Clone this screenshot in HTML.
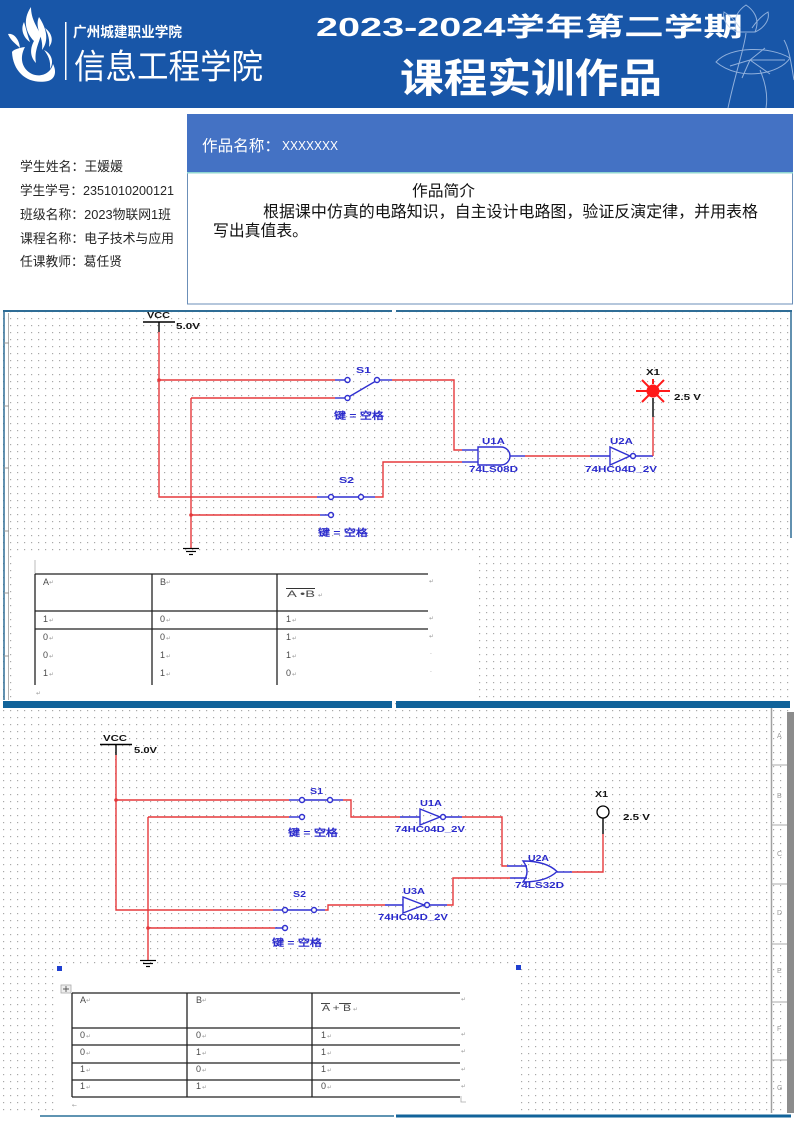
<!DOCTYPE html>
<html><head><meta charset="utf-8"><style>
html,body{margin:0;padding:0;background:#fff}
body{width:794px;height:1123px;overflow:hidden;position:relative}
svg{position:absolute;left:0;top:0;display:block}
.cj{font-family:"Liberation Sans","Noto Sans CJK SC",sans-serif}
.lb{font-family:"Liberation Sans","WenQuanYi Zen Hei",sans-serif;font-weight:bold;font-size:8.5px}
.tb{font-family:"Liberation Sans","DejaVu Sans",sans-serif;fill:#4a4a4a;font-size:9px}
.rt{font-family:"DejaVu Sans",sans-serif;fill:#999;font-size:6px}
.rl{font-family:"Liberation Sans",sans-serif;fill:#999;font-size:7px}
</style></head><body>
<svg width="794" height="1123" viewBox="0 0 794 1123" xmlns="http://www.w3.org/2000/svg">
<defs><pattern id="d" width="7" height="7" patternUnits="userSpaceOnUse"><rect x="3" y="3" width="1.2" height="1.2" fill="#a8a8a8"/></pattern></defs>
<rect width="794" height="1123" fill="#fff"/>

<!-- HEADER -->
<rect x="0" y="0" width="794" height="108" fill="#1856a8"/>
<g fill="#fff">
  <path d="M8,34 C13,33 19,38 20,48 C16,44 11,41 8,34 Z"/>
  <path d="M12,52 C13,74 30,85 48,81 C55,79 57,72 53,64 C51,73 41,78 32,74 C22,69 19,58 25,47 C18,48 13,50 12,52 Z"/>
  <path d="M31,7 C22,20 26,33 34,41 C29,50 31,58 36,63 C34,51 39,43 41,35 C37,27 31,19 31,7 Z"/>
  <path d="M39,17 C34,28 44,37 42,50 C49,41 47,29 39,17 Z"/>
  <path d="M24,22 C20,30 24,38 30,42 C27,34 26,28 24,22 Z"/>
  <path d="M45,28 C52,33 54,41 49,47 C50,40 48,34 45,28 Z"/>
  <path d="M44,50 C52,54 54,62 50,69 C51,61 48,55 44,50 Z"/>
</g>
<rect x="65" y="22" width="1.5" height="58" fill="#fff"/>
<text class="cj" x="73" y="37" font-size="14" font-weight="bold" fill="#fff" textLength="109" lengthAdjust="spacingAndGlyphs">广州城建职业学院</text>
<text class="cj" x="74" y="78.5" font-size="34" fill="#fff" textLength="189" lengthAdjust="spacingAndGlyphs">信息工程学院</text>
<text class="cj" x="316" y="36" font-size="26" font-weight="bold" fill="#fff" textLength="427" lengthAdjust="spacingAndGlyphs">2023-2024学年第二学期</text>
<text class="cj" x="400" y="92" font-size="40" font-weight="bold" fill="#fff" textLength="262" lengthAdjust="spacingAndGlyphs">课程实训作品</text>
<g fill="none" stroke="#b9cfee" stroke-width="1" opacity="0.75">
  <path d="M737,32 C731,18 740,9 746,5 C752,9 761,18 755,32 Z"/>
  <path d="M737,32 C728,28 722,20 724,12 C731,16 736,22 740,28"/>
  <path d="M755,32 C764,28 770,20 768,12 C761,16 756,22 752,28"/>
  <path d="M746,33 C744,50 736,70 728,108"/>
  <path d="M716,62 C730,46 770,46 790,58 C780,74 740,82 716,62 Z"/>
  <path d="M750,60 L730,66 M750,60 L742,78 M750,60 L770,74 M750,60 L785,60 M750,60 L765,48"/>
  <path d="M760,70 C766,84 768,96 766,108"/>
  <path d="M784,40 C790,50 792,70 794,80"/>
</g>

<!-- INFO -->
<g class="cj" font-size="13" fill="#262626">
  <text x="20" y="171" textLength="103" lengthAdjust="spacingAndGlyphs">学生姓名：王媛媛</text>
  <text x="20" y="195" textLength="154" lengthAdjust="spacingAndGlyphs">学生学号：2351010200121</text>
  <text x="20" y="219" textLength="151" lengthAdjust="spacingAndGlyphs">班级名称：2023物联网1班</text>
  <text x="20" y="243" textLength="154" lengthAdjust="spacingAndGlyphs">课程名称：电子技术与应用</text>
  <text x="20" y="266" textLength="102" lengthAdjust="spacingAndGlyphs">任课教师：葛任贤</text>
</g>
<rect x="187" y="114" width="606" height="58" fill="#4472c4"/>
<text class="cj" x="202" y="151" font-size="15.5" fill="#fff" textLength="78" lengthAdjust="spacingAndGlyphs">作品名称：</text>
<text class="cj" x="282" y="150" font-size="12.5" fill="#fff" textLength="56" lengthAdjust="spacingAndGlyphs">XXXXXXX</text>
<rect x="187.5" y="172.5" width="605" height="131.5" fill="#fff" stroke="#6b8fb8" stroke-width="1"/>
<line x1="187" y1="172.8" x2="793" y2="172.8" stroke="#8fd6d2" stroke-width="1.5"/>
<g class="cj" fill="#111">
  <text x="412" y="196" font-size="15.5" textLength="63" lengthAdjust="spacingAndGlyphs">作品简介</text>
  <text x="263" y="217" font-size="16" textLength="495" lengthAdjust="spacingAndGlyphs">根据课中仿真的电路知识，自主设计电路图，验证反演定律，并用表格</text>
  <text x="213" y="236" font-size="16" textLength="95" lengthAdjust="spacingAndGlyphs">写出真值表。</text>
</g>

<!-- GRID AREA -->
<rect x="0" y="312" width="794" height="804" fill="url(#d)"/>
<rect x="17" y="556" width="461" height="145" fill="#fff"/>
<rect x="57" y="966" width="464" height="150" fill="#fff"/>
<rect x="787" y="712" width="7" height="401" fill="#8c8c8c"/>
<line x1="771.5" y1="708" x2="771.5" y2="1113" stroke="#a0a0a0" stroke-width="1.5"/>
<g stroke="#a8a8a8" stroke-width="1">
  <line x1="771" y1="765" x2="787" y2="765"/><line x1="771" y1="825" x2="787" y2="825"/>
  <line x1="771" y1="884" x2="787" y2="884"/><line x1="771" y1="944" x2="787" y2="944"/>
  <line x1="771" y1="1002" x2="787" y2="1002"/><line x1="771" y1="1060" x2="787" y2="1060"/>
</g>
<g class="rl">
  <text x="777" y="738">A</text><text x="777" y="798">B</text><text x="777" y="856">C</text>
  <text x="777" y="915">D</text><text x="777" y="973">E</text><text x="777" y="1031">F</text><text x="777" y="1090">G</text>
</g>

<!-- bars -->
<rect x="3" y="701" width="389" height="7" fill="#11639a"/>
<rect x="396" y="701" width="394" height="7" fill="#11639a"/>
<line x1="40" y1="1116" x2="394" y2="1116" stroke="#2a7099" stroke-width="1.5"/>
<rect x="396" y="1114.5" width="395" height="3" fill="#11639a"/>

<!-- circuit 1 frame -->
<rect x="3" y="310" width="389" height="2" fill="#2f6d96"/>
<rect x="396" y="310" width="396" height="2" fill="#2f6d96"/>
<line x1="791" y1="311" x2="791" y2="538" stroke="#2f6d96" stroke-width="1.5"/>
<line x1="4" y1="311" x2="4" y2="700" stroke="#2f6d96" stroke-width="1.5"/>
<line x1="8.5" y1="313" x2="8.5" y2="700" stroke="#b0b0b0" stroke-width="1"/>
<g stroke="#999" stroke-width="1">
  <line x1="4" y1="343" x2="9" y2="343"/><line x1="4" y1="406" x2="9" y2="406"/>
  <line x1="4" y1="468" x2="9" y2="468"/><line x1="4" y1="531" x2="9" y2="531"/>
  <line x1="4" y1="593" x2="9" y2="593"/><line x1="4" y1="656" x2="9" y2="656"/>
</g>

<!-- CIRCUIT 1 -->
<g fill="none" stroke-width="1.4">
  <line x1="143" y1="322" x2="175" y2="322" stroke="#000"/>
  <line x1="159" y1="322" x2="159" y2="332" stroke="#000"/>
  <polyline points="159,332 159,497 317,497" stroke="#e5383b"/>
  <line x1="159" y1="380" x2="335" y2="380" stroke="#e5383b"/>
  <line x1="335" y1="380" x2="345" y2="380" stroke="#2f2fd0"/>
  <circle cx="347.5" cy="380" r="2.5" stroke="#2f2fd0"/>
  <line x1="349.5" y1="396.5" x2="375" y2="381.5" stroke="#2f2fd0"/>
  <circle cx="377" cy="380" r="2.5" stroke="#2f2fd0"/>
  <line x1="379.5" y1="380" x2="392" y2="380" stroke="#2f2fd0"/>
  <polyline points="392,380 454,380 454,450 462,450" stroke="#e5383b"/>
  <line x1="462" y1="450" x2="478" y2="450" stroke="#2f2fd0"/>
  <line x1="191" y1="398" x2="335" y2="398" stroke="#e5383b"/>
  <line x1="335" y1="398" x2="345" y2="398" stroke="#2f2fd0"/>
  <circle cx="347.5" cy="398" r="2.5" stroke="#2f2fd0"/>
  <line x1="191" y1="398" x2="191" y2="548" stroke="#e5383b"/>
  <line x1="317" y1="497" x2="328.5" y2="497" stroke="#2f2fd0"/>
  <circle cx="331" cy="497" r="2.5" stroke="#2f2fd0"/>
  <line x1="333.5" y1="497" x2="358.5" y2="497" stroke="#2f2fd0"/>
  <circle cx="361" cy="497" r="2.5" stroke="#2f2fd0"/>
  <line x1="363.5" y1="497" x2="375" y2="497" stroke="#2f2fd0"/>
  <polyline points="375,497 383,497 383,462 462,462" stroke="#e5383b"/>
  <line x1="462" y1="462" x2="478" y2="462" stroke="#2f2fd0"/>
  <line x1="191" y1="515" x2="320" y2="515" stroke="#e5383b"/>
  <line x1="320" y1="515" x2="328.5" y2="515" stroke="#2f2fd0"/>
  <circle cx="331" cy="515" r="2.5" stroke="#2f2fd0"/>
  <path d="M478,447 H501 A9,9 0 0 1 501,465 H478 Z" stroke="#2f2fd0"/>
  <line x1="510" y1="456" x2="525" y2="456" stroke="#2f2fd0"/>
  <line x1="525" y1="456" x2="590" y2="456" stroke="#e5383b"/>
  <line x1="590" y1="456" x2="610" y2="456" stroke="#2f2fd0"/>
  <path d="M610,447 L610,465 L630,456 Z" stroke="#2f2fd0"/>
  <circle cx="633" cy="456" r="2.5" stroke="#2f2fd0"/>
  <line x1="635.5" y1="456" x2="653" y2="456" stroke="#2f2fd0"/>
  <line x1="653" y1="456" x2="653" y2="417" stroke="#e5383b"/>
  <line x1="653" y1="417" x2="653" y2="398" stroke="#000"/>
  <line x1="183" y1="548.5" x2="199" y2="548.5" stroke="#000" stroke-width="1.2"/>
  <line x1="186" y1="551.5" x2="196" y2="551.5" stroke="#000" stroke-width="1.2"/>
  <line x1="189" y1="554.5" x2="193" y2="554.5" stroke="#000" stroke-width="1.2"/>
</g>
<circle cx="159" cy="380" r="1.8" fill="#e5383b"/>
<circle cx="191" cy="515" r="1.8" fill="#e5383b"/>
<g stroke="#ff1a1a" stroke-width="2">
  <line x1="636" y1="391" x2="670" y2="391"/>
  <line x1="653" y1="379" x2="653" y2="384"/>
  <line x1="642" y1="380" x2="664" y2="402"/>
  <line x1="664" y1="380" x2="642" y2="402"/>
</g>
<circle cx="653" cy="391" r="6.5" fill="#ff1a1a"/>
<g class="lb" fill="#111">
  <text x="147" y="318" textLength="23" lengthAdjust="spacingAndGlyphs">VCC</text>
  <text x="176" y="329" textLength="24" lengthAdjust="spacingAndGlyphs">5.0V</text>
  <text x="646" y="375" textLength="14" lengthAdjust="spacingAndGlyphs">X1</text>
  <text x="674" y="400" textLength="27" lengthAdjust="spacingAndGlyphs">2.5 V</text>
</g>
<g class="lb" fill="#2a2acb">
  <text x="356" y="373" textLength="15" lengthAdjust="spacingAndGlyphs">S1</text>
  <text x="334" y="419" font-size="9.5" textLength="50" lengthAdjust="spacingAndGlyphs">键 = 空格</text>
  <text x="339" y="483" textLength="15" lengthAdjust="spacingAndGlyphs">S2</text>
  <text x="318" y="536" font-size="9.5" textLength="50" lengthAdjust="spacingAndGlyphs">键 = 空格</text>
  <text x="482" y="444" textLength="23" lengthAdjust="spacingAndGlyphs">U1A</text>
  <text x="469" y="472" textLength="49" lengthAdjust="spacingAndGlyphs">74LS08D</text>
  <text x="610" y="444" textLength="23" lengthAdjust="spacingAndGlyphs">U2A</text>
  <text x="585" y="472" textLength="72" lengthAdjust="spacingAndGlyphs">74HC04D_2V</text>
</g>

<!-- TABLE 1 -->
<line x1="35" y1="560" x2="35" y2="574" stroke="#bbb" stroke-width="1"/>
<g stroke="#222" stroke-width="1.3">
  <line x1="35" y1="574" x2="428" y2="574"/>
  <line x1="35" y1="611" x2="428" y2="611"/>
  <line x1="35" y1="629" x2="428" y2="629"/>
  <line x1="35" y1="574" x2="35" y2="685"/>
  <line x1="152" y1="574" x2="152" y2="685"/>
  <line x1="277" y1="574" x2="277" y2="685"/>
</g>
<g class="tb">
  <text x="43" y="585">A</text><text x="160" y="585">B</text>
  <text x="287" y="597" textLength="28" lengthAdjust="spacingAndGlyphs">A •B</text>
  <text x="43" y="622">1</text><text x="160" y="622">0</text><text x="286" y="622">1</text>
  <text x="43" y="640">0</text><text x="160" y="640">0</text><text x="286" y="640">1</text>
  <text x="43" y="658">0</text><text x="160" y="658">1</text><text x="286" y="658">1</text>
  <text x="43" y="676">1</text><text x="160" y="676">1</text><text x="286" y="676">0</text>
</g>
<line x1="286" y1="588.5" x2="315" y2="588.5" stroke="#333" stroke-width="0.9"/>
<g class="rt">
  <text x="49" y="584">↵</text><text x="166" y="584">↵</text><text x="318" y="597">↵</text>
  <text x="49" y="622">↵</text><text x="166" y="622">↵</text><text x="292" y="622">↵</text>
  <text x="49" y="640">↵</text><text x="166" y="640">↵</text><text x="292" y="640">↵</text>
  <text x="49" y="658">↵</text><text x="166" y="658">↵</text><text x="292" y="658">↵</text>
  <text x="49" y="676">↵</text><text x="166" y="676">↵</text><text x="292" y="676">↵</text>
  <text x="429" y="583">↵</text><text x="429" y="620">↵</text><text x="429" y="638">↵</text>
  <text x="430" y="656">·</text><text x="430" y="674">·</text>
  <text x="36" y="695">↵</text>
</g>

<!-- CIRCUIT 2 -->
<g fill="none" stroke-width="1.4">
  <line x1="100" y1="744.5" x2="132" y2="744.5" stroke="#000"/>
  <line x1="116" y1="744" x2="116" y2="755" stroke="#000"/>
  <polyline points="116,755 116,910 273,910" stroke="#e5383b"/>
  <line x1="116" y1="800" x2="289" y2="800" stroke="#e5383b"/>
  <line x1="289" y1="800" x2="299.5" y2="800" stroke="#2f2fd0"/>
  <circle cx="302" cy="800" r="2.5" stroke="#2f2fd0"/>
  <line x1="304.5" y1="800" x2="327.5" y2="800" stroke="#2f2fd0"/>
  <circle cx="330" cy="800" r="2.5" stroke="#2f2fd0"/>
  <line x1="332.5" y1="800" x2="343" y2="800" stroke="#2f2fd0"/>
  <polyline points="343,800 351,800 351,817 400,817" stroke="#e5383b"/>
  <line x1="400" y1="817" x2="420" y2="817" stroke="#2f2fd0"/>
  <path d="M420,809 L420,825 L440,817 Z" stroke="#2f2fd0"/>
  <circle cx="443" cy="817" r="2.5" stroke="#2f2fd0"/>
  <line x1="445.5" y1="817" x2="462" y2="817" stroke="#2f2fd0"/>
  <polyline points="462,817 502,817 502,866 507,866" stroke="#e5383b"/>
  <line x1="507" y1="866" x2="527" y2="866" stroke="#2f2fd0"/>
  <line x1="148" y1="817" x2="289" y2="817" stroke="#e5383b"/>
  <line x1="289" y1="817" x2="299.5" y2="817" stroke="#2f2fd0"/>
  <circle cx="302" cy="817" r="2.5" stroke="#2f2fd0"/>
  <line x1="148" y1="817" x2="148" y2="960" stroke="#e5383b"/>
  <line x1="273" y1="910" x2="282.5" y2="910" stroke="#2f2fd0"/>
  <circle cx="285" cy="910" r="2.5" stroke="#2f2fd0"/>
  <line x1="287.5" y1="910" x2="311.5" y2="910" stroke="#2f2fd0"/>
  <circle cx="314" cy="910" r="2.5" stroke="#2f2fd0"/>
  <line x1="316.5" y1="910" x2="325" y2="910" stroke="#2f2fd0"/>
  <polyline points="325,910 328,910 328,905 385,905" stroke="#e5383b"/>
  <line x1="385" y1="905" x2="403" y2="905" stroke="#2f2fd0"/>
  <path d="M403,897 L403,913 L424,905 Z" stroke="#2f2fd0"/>
  <circle cx="427" cy="905" r="2.5" stroke="#2f2fd0"/>
  <line x1="429.5" y1="905" x2="447" y2="905" stroke="#2f2fd0"/>
  <polyline points="447,905 453,905 453,878 510,878" stroke="#e5383b"/>
  <line x1="510" y1="878" x2="527" y2="878" stroke="#2f2fd0"/>
  <line x1="148" y1="928" x2="275" y2="928" stroke="#e5383b"/>
  <line x1="275" y1="928" x2="282.5" y2="928" stroke="#2f2fd0"/>
  <circle cx="285" cy="928" r="2.5" stroke="#2f2fd0"/>
  <path d="M523,861 Q531,871.5 523,882 Q546,882 557,871.5 Q546,861 523,861 Z" stroke="#2f2fd0"/>
  <line x1="557" y1="872" x2="572" y2="872" stroke="#2f2fd0"/>
  <polyline points="572,872 603,872 603,834" stroke="#e5383b"/>
  <line x1="603" y1="834" x2="603" y2="818" stroke="#000"/>
  <circle cx="603" cy="812" r="6" stroke="#000" stroke-width="1.3" fill="#fff"/>
  <line x1="140" y1="960.5" x2="156" y2="960.5" stroke="#000" stroke-width="1.2"/>
  <line x1="143" y1="963.5" x2="153" y2="963.5" stroke="#000" stroke-width="1.2"/>
  <line x1="146" y1="966.5" x2="150" y2="966.5" stroke="#000" stroke-width="1.2"/>
</g>
<circle cx="116" cy="800" r="1.8" fill="#e5383b"/>
<circle cx="148" cy="928" r="1.8" fill="#e5383b"/>
<g class="lb" fill="#111">
  <text x="103" y="741" textLength="24" lengthAdjust="spacingAndGlyphs">VCC</text>
  <text x="134" y="753" textLength="23" lengthAdjust="spacingAndGlyphs">5.0V</text>
  <text x="595" y="797" textLength="13" lengthAdjust="spacingAndGlyphs">X1</text>
  <text x="623" y="820" textLength="27" lengthAdjust="spacingAndGlyphs">2.5 V</text>
</g>
<g class="lb" fill="#2a2acb">
  <text x="310" y="794" textLength="13" lengthAdjust="spacingAndGlyphs">S1</text>
  <text x="288" y="836" font-size="9.5" textLength="50" lengthAdjust="spacingAndGlyphs">键 = 空格</text>
  <text x="293" y="897" textLength="13" lengthAdjust="spacingAndGlyphs">S2</text>
  <text x="272" y="946" font-size="9.5" textLength="50" lengthAdjust="spacingAndGlyphs">键 = 空格</text>
  <text x="420" y="806" textLength="22" lengthAdjust="spacingAndGlyphs">U1A</text>
  <text x="395" y="832" textLength="70" lengthAdjust="spacingAndGlyphs">74HC04D_2V</text>
  <text x="528" y="861" textLength="21" lengthAdjust="spacingAndGlyphs">U2A</text>
  <text x="515" y="888" textLength="49" lengthAdjust="spacingAndGlyphs">74LS32D</text>
  <text x="403" y="894" textLength="22" lengthAdjust="spacingAndGlyphs">U3A</text>
  <text x="378" y="920" textLength="70" lengthAdjust="spacingAndGlyphs">74HC04D_2V</text>
</g>

<!-- TABLE 2 -->
<rect x="57" y="966" width="5" height="5" fill="#1f3fd0"/>
<rect x="516" y="965" width="5" height="5" fill="#1f3fd0"/>
<rect x="61" y="985" width="10" height="8" fill="#eee" stroke="#aaa" stroke-width="0.8"/>
<path d="M66,986 V992 M63,989 H69" stroke="#555" stroke-width="0.9"/>
<g stroke="#222" stroke-width="1.3">
  <line x1="72" y1="993" x2="460" y2="993"/>
  <line x1="72" y1="1028" x2="460" y2="1028"/>
  <line x1="72" y1="1045" x2="460" y2="1045"/>
  <line x1="72" y1="1063" x2="460" y2="1063"/>
  <line x1="72" y1="1080" x2="460" y2="1080"/>
  <line x1="72" y1="1097" x2="460" y2="1097"/>
  <line x1="72" y1="993" x2="72" y2="1097"/>
  <line x1="187" y1="993" x2="187" y2="1097"/>
  <line x1="312" y1="993" x2="312" y2="1097"/>
</g>
<g class="tb">
  <text x="80" y="1003">A</text><text x="196" y="1003">B</text>
  <text x="322" y="1011" textLength="29" lengthAdjust="spacingAndGlyphs">A + B</text>
  <text x="80" y="1038">0</text><text x="196" y="1038">0</text><text x="321" y="1038">1</text>
  <text x="80" y="1055">0</text><text x="196" y="1055">1</text><text x="321" y="1055">1</text>
  <text x="80" y="1072">1</text><text x="196" y="1072">0</text><text x="321" y="1072">1</text>
  <text x="80" y="1089">1</text><text x="196" y="1089">1</text><text x="321" y="1089">0</text>
</g>
<line x1="321" y1="1003.5" x2="330" y2="1003.5" stroke="#333" stroke-width="0.9"/>
<line x1="339" y1="1003.5" x2="351" y2="1003.5" stroke="#333" stroke-width="0.9"/>
<g class="rt">
  <text x="86" y="1002">↵</text><text x="202" y="1002">↵</text><text x="353" y="1011">↵</text>
  <text x="86" y="1038">↵</text><text x="202" y="1038">↵</text><text x="327" y="1038">↵</text>
  <text x="86" y="1055">↵</text><text x="202" y="1055">↵</text><text x="327" y="1055">↵</text>
  <text x="86" y="1072">↵</text><text x="202" y="1072">↵</text><text x="327" y="1072">↵</text>
  <text x="86" y="1089">↵</text><text x="202" y="1089">↵</text><text x="327" y="1089">↵</text>
  <text x="461" y="1001">↵</text><text x="461" y="1036">↵</text><text x="461" y="1053">↵</text>
  <text x="461" y="1071">↵</text><text x="461" y="1088">↵</text>
  <text x="72" y="1107">←</text>
</g>
<path d="M461,1096 V1102 H466" fill="none" stroke="#aaa" stroke-width="0.8"/>
</svg>
</body></html>
